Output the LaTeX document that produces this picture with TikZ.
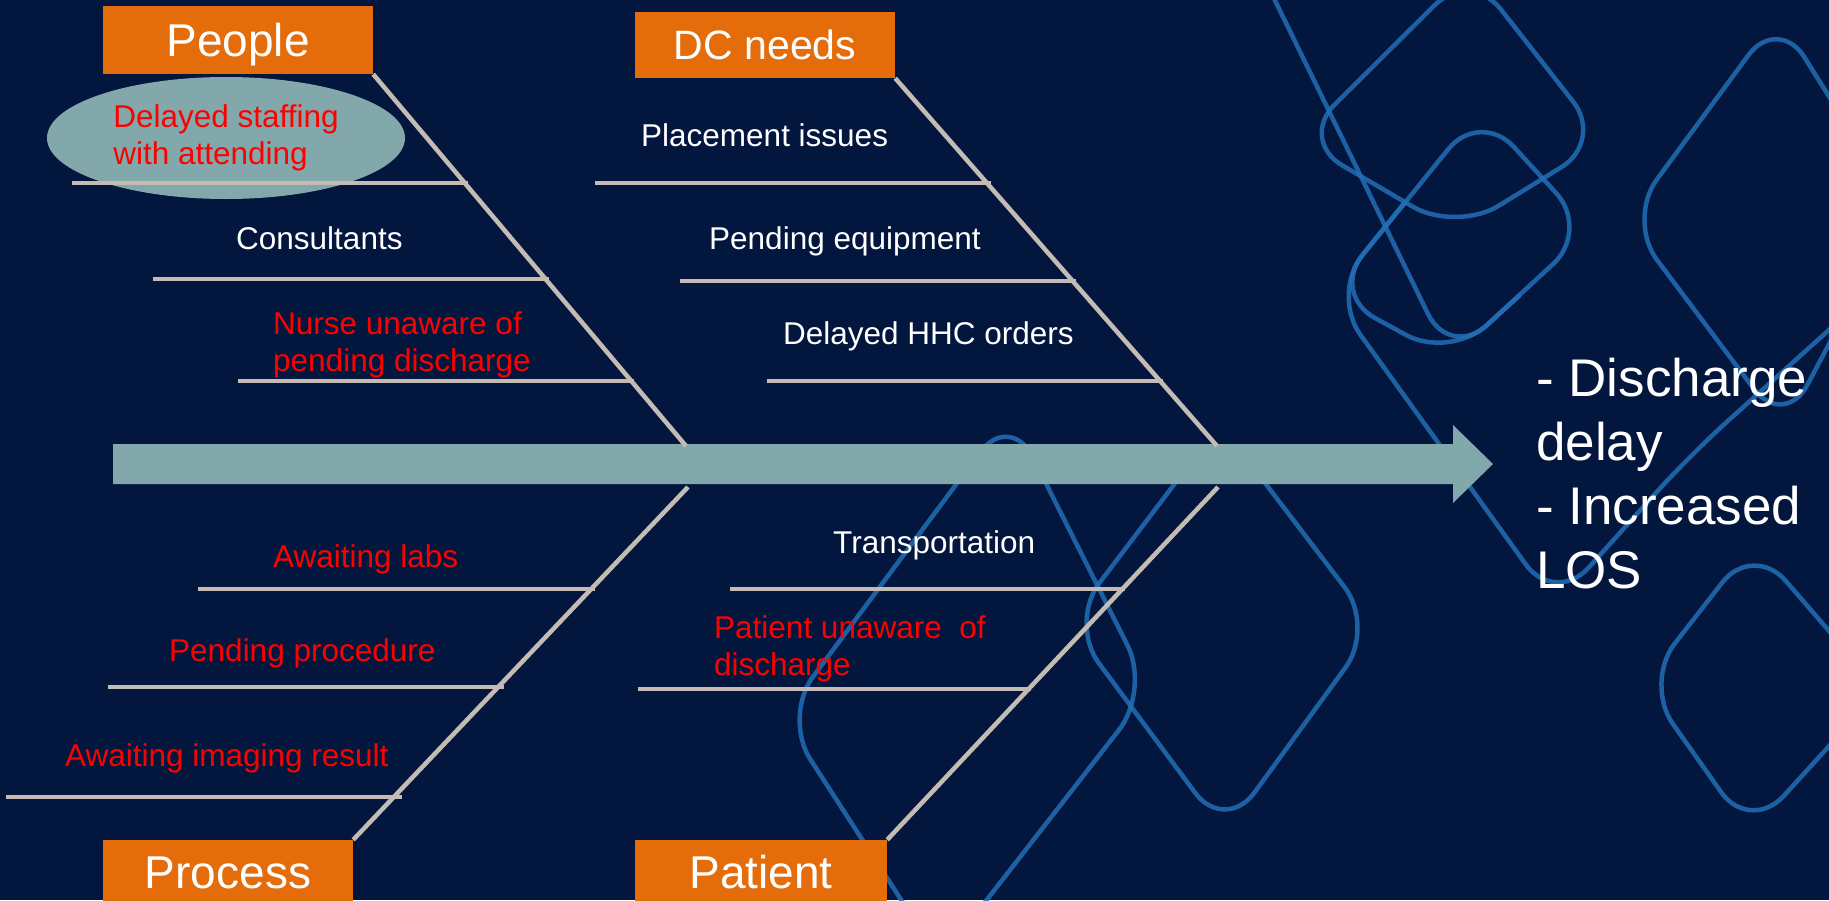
\documentclass[tikz,border=0pt]{standalone}
\usepackage{fontspec}
\setmainfont{Liberation Sans}
\usetikzlibrary{shapes.geometric}
\definecolor{slidebg}{RGB}{2,22,62}
\definecolor{catorange}{RGB}{228,108,10}
\definecolor{spineteal}{RGB}{130,168,172}
\definecolor{bonegrey}{RGB}{196,188,180}
\definecolor{wavesblue}{RGB}{34,110,182}
\newcommand{\causefont}{\fontsize{31.5}{37}\selectfont}

\begin{document}
\begin{tikzpicture}[x=1pt, y=-1pt, inner sep=0pt,
    catbox/.style={fill=catorange, text=white, minimum height=66pt,
      text height=33pt, text depth=0pt, font=\fontsize{46}{50}\selectfont},
    cause/.style={anchor=base west, align=left, font=\causefont},
    hot/.style={cause, text=red},
    cool/.style={cause, text=white},
    bonestyle/.style={bonegrey, line width=4.5pt},
    wavestyle/.style={wavesblue, opacity=0.85, line width=4.5pt, rounded corners=50pt}]

	% slide background
	\fill[slidebg] (0,0) rectangle (1829,900);
	\useasboundingbox (0,0) rectangle (1829,900);

	% decorative waves
	\draw[wavestyle] (1299,140) -- (1470,-30) -- (1604,141) -- (1456,232) -- cycle;
	\draw[wavestyle] (1331,294) -- (1480,110) -- (1590,230) -- (1450,359) -- cycle;
	\draw[wavestyle] (1627,220) -- (1778,15) -- (1900,210) -- (1784,429) -- cycle;
	\draw[wavestyle] (1644,683) -- (1753,543) -- (1880,690) -- (1750,833) -- cycle;
	\draw[wavestyle] (1069,623) -- (1220,424) -- (1375,627) -- (1225,833) -- cycle;
	\draw[wavestyle] (783,717) -- (1010,412) -- (1150,690) -- (940,960) -- cycle;
	\draw[wavestyle] (1265,-20) -- (1450,359) -- (1520,295);
	\draw[wavestyle] (1405,202) -- (1331,294) -- (1555,605) -- (1690,455) -- (1840,320);

	% spine
	\coordinate (tail) at (113,464);
	\coordinate (tip) at (1493,464);
	\fill[spineteal] (113,444) -- (1453,444) -- (1453,425) -- (tip)
		-- (1453,503) -- (1453,484) -- (113,484) -- cycle;

	\node[ellipse, fill=spineteal, minimum width=358pt, minimum height=122pt,
		text=red, align=left, font=\causefont] (staffing) at (226,138)
		{Delayed staffing\\with attending};

	% category boxes
	\node[catbox, minimum width=270pt, minimum height=68pt] (people) at (238,40) {People};
	\node[catbox, minimum width=260pt, text height=29.5pt,
		font=\fontsize{41}{45}\selectfont] (dcneeds) at (765,45) {DC needs};
	\node[catbox, minimum width=250pt, minimum height=64pt] (process) at (228,872) {Process};
	\node[catbox, minimum width=252pt, minimum height=64pt] (patient) at (761,872) {Patient};

	% bones
	\coordinate (pjoin) at (686,446);
	\coordinate (djoin) at (1217,446);
	\coordinate (rjoin) at (688,487);
	\coordinate (tjoin) at (1218,487);
	\draw[bonestyle] (people.south east) -- (pjoin);
	\draw[bonestyle] (dcneeds.south east) -- (djoin);
	\draw[bonestyle] (process.north east) -- (rjoin);
	\draw[bonestyle] (patient.north east) -- (tjoin);

	% ribs
	\foreach \y/\l/\r [count=\i] in {183/72/468, 279/153/549, 381/238/634}
	{
		\coordinate (pl\i) at (\l,\y);
		\coordinate (pr\i) at (\r,\y);
		\draw[bonestyle] (pl\i) -- (pr\i);
	}
	\foreach \y/\l/\r [count=\i] in {183/595/991, 281/680/1076, 381/767/1163}
	{
		\coordinate (dl\i) at (\l,\y);
		\coordinate (dr\i) at (\r,\y);
		\draw[bonestyle] (dl\i) -- (dr\i);
	}
	\foreach \y/\l/\r [count=\i] in {589/198/595, 687/108/504, 797/6/402}
	{
		\coordinate (rl\i) at (\l,\y);
		\coordinate (rr\i) at (\r,\y);
		\draw[bonestyle] (rl\i) -- (rr\i);
	}
	\foreach \y/\l/\r [count=\i] in {589/730/1125, 689/638/1031}
	{
		\coordinate (tl\i) at (\l,\y);
		\coordinate (tr\i) at (\r,\y);
		\draw[bonestyle] (tl\i) -- (tr\i);
	}

	% causes (base = last line)
	\node[cool] (consult) at (236,249) {Consultants};
	\node[hot] (nurse) at (273,371) {Nurse unaware of\\pending discharge};
	\node[cool] (placement) at (641,146) {Placement issues};
	\node[cool] (equipment) at (709,249) {Pending equipment};
	\node[cool] (hhc) at (783,344) {Delayed HHC orders};
	\node[hot] (labs) at (273,567) {Awaiting labs};
	\node[hot] (procedure) at (169,661) {Pending procedure};
	\node[hot] (imaging) at (65,766) {Awaiting imaging result};
	\node[cool] (transport) at (833,553) {Transportation};
	\node[hot] (unaware) at (714,675) {Patient unaware~ of\\discharge};

	% effect
	\node[anchor=base west, align=left, text=white,
		font=\fontsize{53}{64}\selectfont] (outcome) at (1536,588)
		{- Discharge\\delay\\- Increased\\LOS};

\end{tikzpicture}
\end{document}
